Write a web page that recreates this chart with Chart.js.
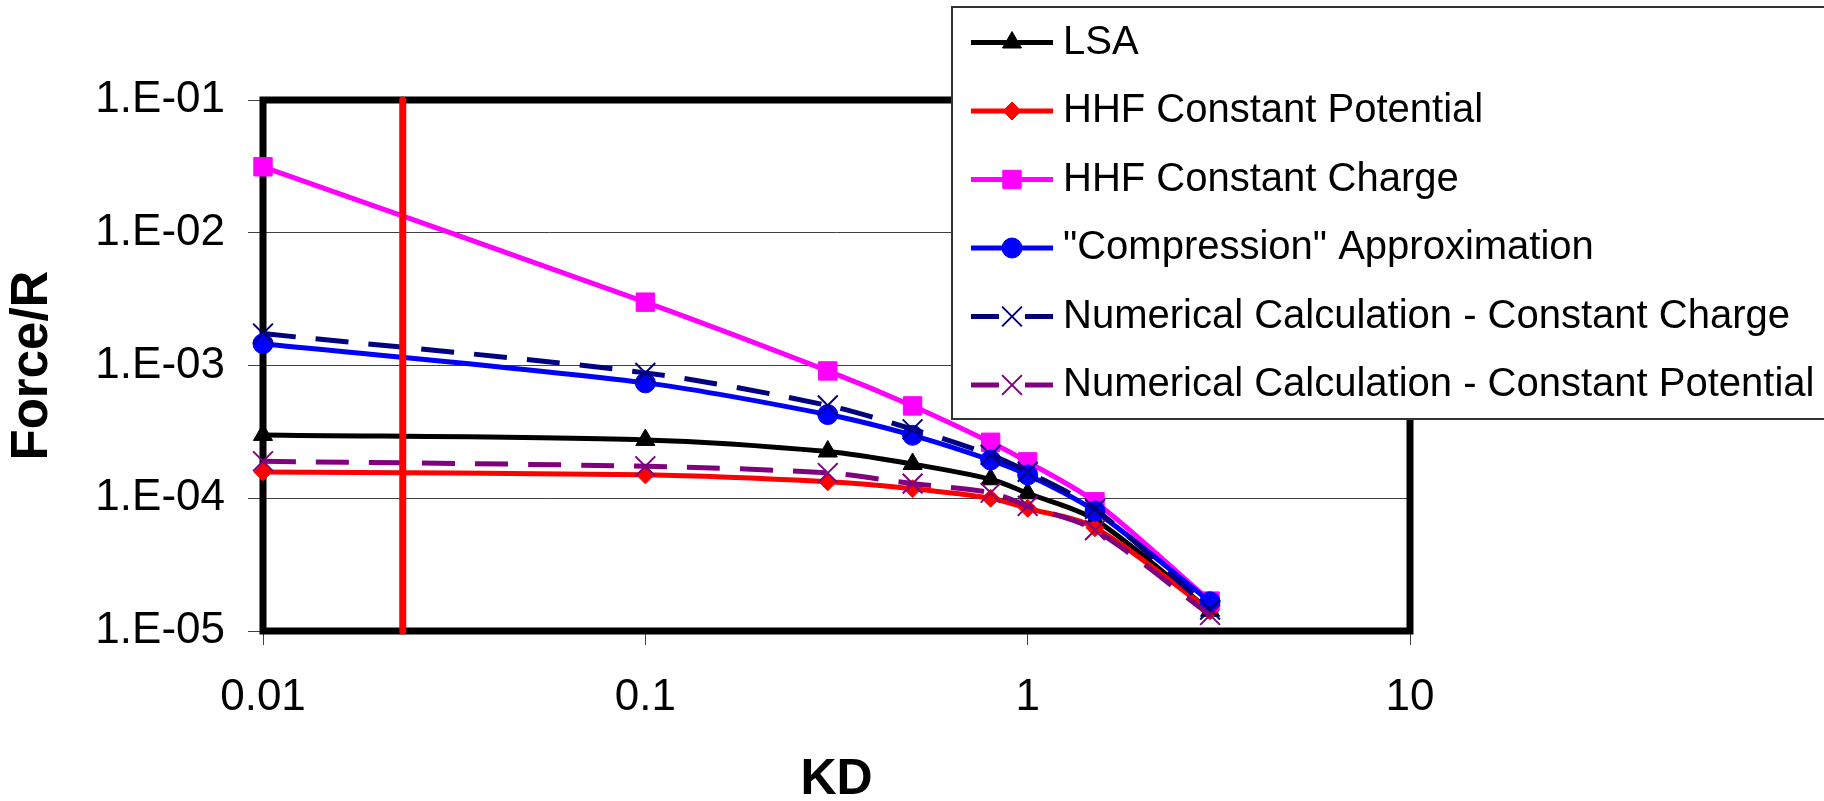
<!DOCTYPE html>
<html>
<head>
<meta charset="utf-8">
<title>Force/R vs KD</title>
<script src="https://cdn.jsdelivr.net/npm/chart.js@4.4.1/dist/chart.umd.min.js"></script>
<style>
  html, body { margin: 0; padding: 0; background: #fff; }
  #wrap { width: 1824px; height: 801px; }
</style>
</head>
<body>
<div id="wrap"><canvas id="forceChart" width="1824" height="801"></canvas></div>
<script>
// values
const kd = [0.01, 0.1, 0.3, 0.5, 0.8, 1, 1.5, 3];
const lsa = [3.0e-4, 2.75e-4, 2.25e-4, 1.81e-4, 1.39e-4, 1.09e-4, 6.9e-5, 1.42e-5];
const hhfPotential = [1.58e-4, 1.50e-4, 1.33e-4, 1.18e-4, 1.0e-4, 8.4e-5, 6.0e-5, 1.42e-5];
const hhfCharge = [3.14e-2, 3.0e-3, 9.1e-4, 4.96e-4, 2.64e-4, 1.88e-4, 9.4e-5, 1.68e-5];
const compression = [1.46e-3, 7.4e-4, 4.27e-4, 2.98e-4, 1.94e-4, 1.50e-4, 8.0e-5, 1.66e-5];
const numCharge = [1.74e-3, 8.8e-4, 5.0e-4, 3.31e-4, 2.12e-4, 1.58e-4, 8.3e-5, 1.45e-5];
const numPotential = [1.90e-4, 1.74e-4, 1.55e-4, 1.29e-4, 1.1e-4, 8.75e-5, 5.75e-5, 1.32e-5];

// red vertical marker line
const cutoffKD = [0.0232, 0.0232];
const cutoffForce = [1e-5, 1e-1];

const xTickValues = [0.01, 0.1, 1, 10];
const xTickLabels = ['0.01', '0.1', '1', '10'];
const yTickValues = [1e-5, 1e-4, 1e-3, 1e-2, 1e-1];
const yTickLabels = ['1.E-05', '1.E-04', '1.E-03', '1.E-02', '1.E-01'];

const FONT = '"Liberation Sans", Arial, sans-serif';

function toPoints(xs, ys) {
    return xs.map((x, i) => ({ x: x, y: ys[i] }));
}

function series(label, values, color, style, radius, dashed, order) {
    return {
        label: label,
        data: toPoints(kd, values),
        borderColor: color,
        backgroundColor: color,
        borderWidth: 5,
        borderDash: dashed ? [33, 20] : [],
        tension: 0.3,
        clip: false,
        pointStyle: style,
        pointRadius: radius,
        pointHoverRadius: radius,
        pointBackgroundColor: color,
        pointBorderColor: color,
        pointBorderWidth: style === 'crossRot' ? 2 : 1,
        order: order
    };
}

const datasets = [
    series('LSA', lsa, '#000000', 'triangle', 11, false, 7),
    series('HHF Constant Potential', hhfPotential, '#FF0000', 'rectRot', 9, false, 6),
    series('HHF Constant Charge', hhfCharge, '#FF00FF', 'rect', 13, false, 5),
    series('"Compression" Approximation', compression, '#0000FF', 'circle', 10, false, 4),
    series('Numerical Calculation - Constant Charge', numCharge, '#000080', 'crossRot', 14, true, 3),
    series('Numerical Calculation - Constant Potential', numPotential, '#800080', 'crossRot', 14, true, 2),
    {
        label: 'cutoff',
        skipLegend: true,
        data: toPoints(cutoffKD, cutoffForce),
        borderColor: '#FF0000',
        borderWidth: 7,
        borderCapStyle: 'round',
        clip: false,
        pointRadius: 0,
        tension: 0,
        order: 1
    }
];

// thick black frame round the plot area, under the series
const plotFrame = {
    id: 'plotFrame',
    beforeDatasetsDraw(chart) {
        const { ctx, chartArea: a } = chart;
        ctx.save();
        ctx.strokeStyle = '#000';
        ctx.lineWidth = 7;
        ctx.strokeRect(a.left, a.top, a.right - a.left, a.bottom - a.top);
        ctx.restore();
    }
};

// legend box that sits over the top right of the plot
const overlayLegend = {
    id: 'overlayLegend',
    afterDraw(chart) {
        const ctx = chart.ctx;
        ctx.save();
        ctx.fillStyle = '#fff';
        ctx.fillRect(952, 7, 880, 412);
        ctx.strokeStyle = '#333';
        ctx.lineWidth = 2;
        ctx.strokeRect(952, 7, 880, 412);

        const items = chart.data.datasets.filter(d => !d.skipLegend);
        items.forEach((ds, i) => {
            const y = 42.5 + i * 68.5;
            ctx.strokeStyle = ds.borderColor;
            ctx.lineWidth = 5;
            ctx.setLineDash(ds.borderDash.length ? [28, 26] : []);
            ctx.beginPath();
            ctx.moveTo(971, y);
            ctx.lineTo(1053, y);
            ctx.stroke();
            ctx.setLineDash([]);

            ctx.fillStyle = ds.pointBackgroundColor;
            ctx.strokeStyle = ds.pointBorderColor;
            ctx.lineWidth = ds.pointBorderWidth;
            Chart.helpers.drawPoint(ctx, {
                pointStyle: ds.pointStyle,
                radius: ds.pointRadius,
                rotation: 0,
                borderWidth: ds.pointBorderWidth
            }, 1012, y);

            ctx.fillStyle = '#000';
            ctx.font = '40px ' + FONT;
            ctx.textAlign = 'left';
            ctx.textBaseline = 'middle';
            ctx.fillText(ds.label, 1063, y);
        });
        ctx.restore();
    }
};

new Chart(document.getElementById('forceChart'), {
    type: 'line',
    data: { datasets: datasets },
    plugins: [plotFrame, overlayLegend],
    options: {
        responsive: false,
        animation: false,
        events: [],
        layout: { padding: { top: 100, right: 414, bottom: 0, left: 0 } },
        plugins: {
            legend: { display: false },
            tooltip: { enabled: false }
        },
        scales: {
            x: {
                type: 'logarithmic',
                min: 0.01,
                max: 10,
                afterBuildTicks: scale => { scale.ticks = xTickValues.map(v => ({ value: v })); },
                afterFit: scale => { scale.height = 170; },
                border: { display: false },
                grid: { drawOnChartArea: false, drawTicks: true, tickLength: 14, color: '#404040', lineWidth: 1 },
                ticks: {
                    autoSkip: false,
                    maxRotation: 0,
                    padding: 26,
                    color: '#000',
                    font: { family: FONT, size: 44 },
                    callback: (v, i) => xTickLabels[i]
                },
                title: {
                    display: true,
                    text: 'KD',
                    color: '#000',
                    font: { family: FONT, size: 50, weight: 'bold', lineHeight: 0.8 },
                    padding: { top: 0, bottom: 1 }
                }
            },
            y: {
                type: 'logarithmic',
                min: 1e-5,
                max: 1e-1,
                afterBuildTicks: scale => { scale.ticks = yTickValues.map(v => ({ value: v })); },
                afterFit: scale => { scale.width = 263; },
                border: { display: false },
                grid: { drawOnChartArea: true, drawTicks: true, tickLength: 15, color: '#404040', lineWidth: 1 },
                ticks: {
                    autoSkip: false,
                    padding: 23,
                    color: '#000',
                    font: { family: FONT, size: 44 },
                    callback: (v, i) => yTickLabels[i]
                },
                title: {
                    display: true,
                    text: 'Force/R',
                    color: '#000',
                    font: { family: FONT, size: 51, weight: 'bold', lineHeight: 1.2 },
                    padding: { top: 2, bottom: 0 }
                }
            }
        }
    }
});
</script>
</body>
</html>
